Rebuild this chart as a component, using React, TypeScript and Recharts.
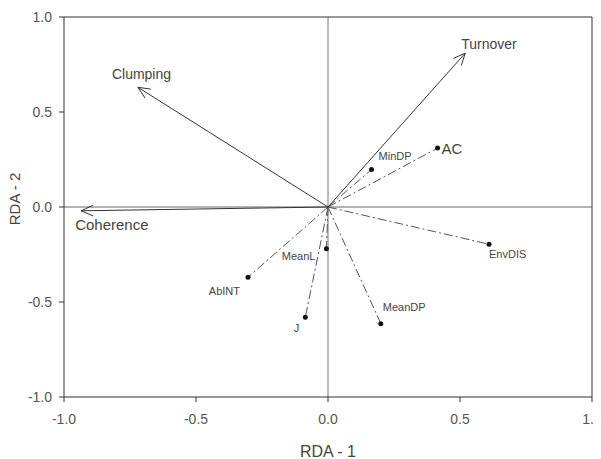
import { ScatterChart, Scatter, XAxis, YAxis, ReferenceLine } from 'recharts';

const font = '"Liberation Sans", Arial, sans-serif';

const axisTicks = [-1, -0.5, 0, 0.5, 1];

// environmental / response vectors (arrows)
const arrowNames = ['Turnover', 'Clumping', 'Coherence'];
const arrowX = [0.52, -0.72, -0.935];
const arrowY = [0.81, 0.63, -0.02];

// explanatory variables (points joined to origin by dashed lines)
const pointNames = ['AC', 'MinDP', 'EnvDIS', 'MeanDP', 'MeanL', 'J', 'AbINT'];
const pointX = [0.415, 0.165, 0.61, 0.2, -0.006, -0.086, -0.303];
const pointY = [0.31, 0.197, -0.196, -0.614, -0.22, -0.58, -0.37];

// label placement, px offsets from the mark
const arrowLabel: Record<string, { dx: number; dy: number; size: number }> = {
    Turnover: { dx: -4, dy: -9, size: 14 },
    Clumping: { dx: -26, dy: -13, size: 14 },
    Coherence: { dx: -6, dy: 14, size: 15 },
};
const pointLabel: Record<string, { dx: number; dy: number; size: number; anchor: 'start' | 'end' }> = {
    AC: { dx: 4, dy: 0, size: 15, anchor: 'start' },
    MinDP: { dx: 7, dy: -14, size: 11, anchor: 'start' },
    EnvDIS: { dx: 0, dy: 10, size: 11, anchor: 'start' },
    MeanDP: { dx: 2, dy: -17, size: 11, anchor: 'start' },
    MeanL: { dx: -11, dy: 7, size: 11, anchor: 'end' },
    J: { dx: -6, dy: 11, size: 11, anchor: 'end' },
    AbINT: { dx: -8, dy: 14, size: 11, anchor: 'end' },
};

const points = pointNames.map((name, i) => ({ name, x: pointX[i], y: pointY[i] }));

function arrowShape(name: string) {
    return (p: any) => {
        const { x1, y1, x2, y2 } = p;
        const a = Math.atan2(y2 - y1, x2 - x1);
        const len = 13;
        const t = 0.42;
        const hx1 = x2 - len * Math.cos(a - t);
        const hy1 = y2 - len * Math.sin(a - t);
        const hx2 = x2 - len * Math.cos(a + t);
        const hy2 = y2 - len * Math.sin(a + t);
        const s = arrowLabel[name];
        return (
            <g>
                <line x1={x1} y1={y1} x2={x2} y2={y2} stroke="#333" strokeWidth={1} />
                <polyline points={`${hx1},${hy1} ${x2},${y2} ${hx2},${hy2}`} fill="none" stroke="#333" strokeWidth={1} />
                <text x={x2 + s.dx} y={y2 + s.dy} fontSize={s.size} fill="#444" fontFamily={font} dominantBaseline="central">
                    {name}
                </text>
            </g>
        );
    };
}

const PointShape = (p: any) => {
    const { cx, cy, payload } = p;
    const s = pointLabel[payload.name];
    return (
        <g>
            <circle cx={cx} cy={cy} r={2.5} fill="#111" />
            <text x={cx + s.dx} y={cy + s.dy} fontSize={s.size} fill="#444" fontFamily={font}
                textAnchor={s.anchor} dominantBaseline="central">
                {payload.name}
            </text>
        </g>
    );
};

const tickStyle = { fontSize: 14, fill: '#555', fontFamily: font };

export default function App() {
    return (
        <div style={{ margin: '-8px 0 0 -8px', position: 'relative' }}>
            <ScatterChart width={601} height={459} margin={{ top: 17, right: 9, bottom: 0, left: 0 }}>
                <XAxis
                    type="number"
                    dataKey="x"
                    domain={[-1, 1]}
                    ticks={axisTicks}
                    tickFormatter={(v) => v.toFixed(1)}
                    tick={tickStyle}
                    tickSize={5}
                    tickMargin={12}
                    height={62}
                    stroke="#333"
                    label={(props: any) => {
                        const vb = props.viewBox;
                        return (
                            <text x={vb.x + vb.width / 2} y={451} textAnchor="middle" dominantBaseline="central"
                                fontSize={16} fill="#444" fontFamily={font}>RDA - 1</text>
                        );
                    }}
                />
                <YAxis
                    type="number"
                    dataKey="y"
                    domain={[-1, 1]}
                    ticks={axisTicks}
                    tickFormatter={(v) => v.toFixed(1)}
                    tick={tickStyle}
                    tickSize={5}
                    tickMargin={7}
                    width={64}
                    stroke="#333"
                />
                <ReferenceLine y={1} stroke="#333" />
                <ReferenceLine x={1} stroke="#333" />
                <ReferenceLine y={0} stroke="#666" />
                <ReferenceLine x={0} stroke="#777" />
                {points.map((pt) => (
                    <ReferenceLine
                        key={`d-${pt.name}`}
                        segment={[{ x: 0, y: 0 }, { x: pt.x, y: pt.y }]}
                        stroke="#555"
                        strokeDasharray="9 3 2 3"
                    />
                ))}
                {arrowNames.map((name, i) => (
                    <ReferenceLine
                        key={`a-${name}`}
                        segment={[{ x: 0, y: 0 }, { x: arrowX[i], y: arrowY[i] }]}
                        shape={arrowShape(name)}
                    />
                ))}
                <Scatter data={points} shape={PointShape} isAnimationActive={false} />
            </ScatterChart>
            <div
                style={{
                    position: 'absolute', left: 14, top: 199, transform: 'translate(-50%, -50%) rotate(-90deg)',
                    fontFamily: font, fontSize: 15, color: '#444', whiteSpace: 'nowrap',
                }}
            >
                RDA - 2
            </div>
        </div>
    );
}
